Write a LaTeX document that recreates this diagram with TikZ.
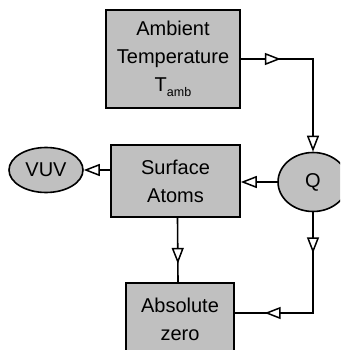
\documentclass[tikz,border=0pt]{standalone}
\usepackage{fontspec}
\setmainfont{Liberation Sans}
\usepackage{tikz}
\usetikzlibrary{arrows.meta,decorations.markings,shapes.geometric}
\definecolor{boxgray}{RGB}{192,192,192}

\begin{document}
\begin{tikzpicture}[
    x=1pt,y=-1pt,line width=1.6pt,
    stage/.style={draw,fill=boxgray,align=center,inner sep=0pt,
        font=\fontsize{20}{28}\selectfont},
    source/.style={draw,fill=boxgray,ellipse,inner sep=0pt,
        font=\fontsize{20}{28}\selectfont},
    hollow/.tip={Triangle[fill=white,length=16pt,width=12pt,line width=1.5pt]},
    flow/.style={-hollow},
    midarrow/.style={postaction={decorate},decoration={markings,
        mark=at position #1 with {\arrow{hollow}}}},
    pairarrow/.style 2 args={postaction={decorate},decoration={markings,
        mark=at position #1 with {\arrow{hollow}},
        mark=at position #2 with {\arrow{hollow}}}}
]
    \useasboundingbox (0,0) rectangle (340,350);
    \clip (0,0) rectangle (340,350);

    \node[stage,minimum width=134pt,minimum height=98pt] (ambient) at (173,59)
        {Ambient\\Temperature\\T\raisebox{-5pt}{\fontsize{12.5}{12}\selectfont amb}};
    \node[stage,minimum width=129pt,minimum height=72pt] (surface) at (175.5,181)
        {Surface\\Atoms};
    \node[stage,minimum width=108pt,minimum height=72pt] (absolute) at (180,319)
        {Absolute\\zero};
    \node[source,minimum width=74pt,minimum height=45pt] (vuv) at (46,170) {VUV};
    \node[source,minimum width=70pt,minimum height=59pt] (q) at (313,182) {Q};

    \draw[flow,midarrow=40pt] (ambient.east) -| (q.north);
    \draw[flow] (q.west) -- (q.west -| surface.east);
    \draw[flow] (surface.west |- vuv.east) -- (vuv.east);
    \draw[midarrow=46pt] ([xshift=2pt]surface.south) -- ([xshift=-2pt]absolute.north);
    \draw[pairarrow={41pt}{149pt}] (q.south) |- ([yshift=6pt]absolute.east);
\end{tikzpicture}
\end{document}
